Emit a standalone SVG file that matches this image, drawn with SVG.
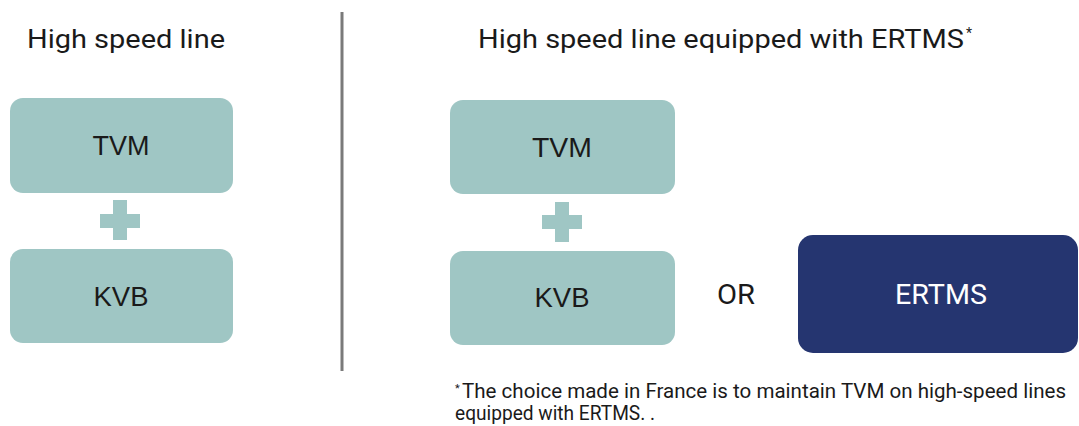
<svg xmlns="http://www.w3.org/2000/svg" width="1079" height="426" viewBox="0 0 1079 426">
<style>
.box{fill:#9fc6c4}
.plus{fill:#9fc6c4}
.lbl{font-family:"Liberation Sans",Arial,sans-serif;font-size:27px;fill:#1a1a1a;text-anchor:middle}
.ttl{font-family:Roboto,"Liberation Sans",sans-serif;font-size:26px;fill:#1a1a1a}
.cnd{font-family:Roboto,"Liberation Sans",sans-serif;fill:#1a1a1a}
</style>
<rect width="1079" height="426" fill="#ffffff"/>
<text class="ttl" x="27" y="48" textLength="198" lengthAdjust="spacingAndGlyphs">High speed line</text>
<line x1="342" y1="12" x2="342" y2="371" stroke="#7a7a7a" stroke-width="3"/>
<text class="ttl" x="478" y="48" textLength="486" lengthAdjust="spacingAndGlyphs">High speed line equipped with ERTMS</text>
<text class="cnd" x="966" y="38" font-size="14">*</text>
<g id="left-tvm"><rect class="box" x="10" y="98" width="223" height="95" rx="13"/><text class="lbl" x="121" y="155" textLength="57" lengthAdjust="spacingAndGlyphs">TVM</text></g>
<g id="left-plus"><rect class="plus" x="100" y="214" width="40" height="14"/><rect class="plus" x="113" y="200" width="14" height="40"/></g>
<g id="left-kvb"><rect class="box" x="10" y="249" width="223" height="94" rx="13"/><text class="lbl" x="121" y="306" textLength="55" lengthAdjust="spacingAndGlyphs">KVB</text></g>
<g id="right-tvm"><rect class="box" x="450" y="100" width="225" height="94" rx="13"/><text class="lbl" x="562" y="157" textLength="60" lengthAdjust="spacingAndGlyphs">TVM</text></g>
<g id="right-plus"><rect class="plus" x="542" y="215" width="40" height="14"/><rect class="plus" x="555" y="202" width="14" height="40"/></g>
<g id="right-kvb"><rect class="box" x="450" y="251" width="225" height="94" rx="13"/><text class="lbl" x="562" y="307" textLength="55" lengthAdjust="spacingAndGlyphs">KVB</text></g>
<g id="or"><text class="cnd" x="717" y="304" font-size="28" textLength="38" lengthAdjust="spacingAndGlyphs">OR</text></g>
<g id="ertms"><rect x="798" y="235" width="280" height="118" rx="15" fill="#253570"/><text class="cnd" x="895" y="304" font-size="28" style="fill:#ffffff" textLength="92" lengthAdjust="spacingAndGlyphs">ERTMS</text></g>
<g id="connectors"></g>
<text class="cnd" x="455" y="392" font-size="11">*</text>
<text class="cnd" x="462" y="398" font-size="20" textLength="604" lengthAdjust="spacingAndGlyphs">The choice made in France is to maintain TVM on high-speed lines</text>
<text class="cnd" x="455" y="420" font-size="20" textLength="200" lengthAdjust="spacingAndGlyphs">equipped with ERTMS. .</text>
</svg>
